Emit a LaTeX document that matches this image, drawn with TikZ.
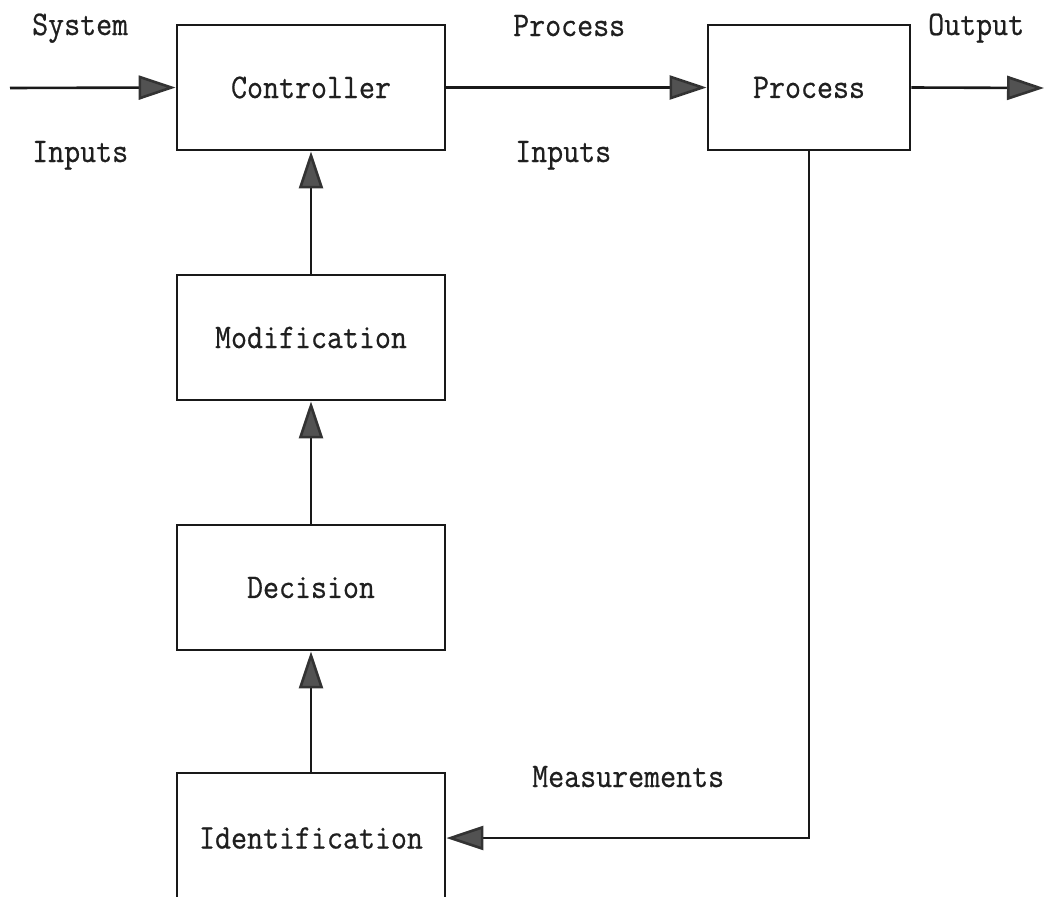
\documentclass[tikz,border=0pt]{standalone}
\usepackage{fontspec}
\newfontfamily\lblfont[FakeStretch=0.9,FakeBold=0.6]{Latin Modern Mono}
\usetikzlibrary{arrows.meta}
\begin{document}
\begin{tikzpicture}[x=1pt,y=-1pt,
  every node/.style={font=\lblfont\fontsize{34.5}{38}\selectfont, text=black!88},
  blockbox/.style={draw=black!90, line width=2.8pt, minimum width=268pt, minimum height=125pt, inner sep=0pt},
  lbl/.style={anchor=base west, inner sep=0pt},
  arr/.style={draw=black!90, line width=2.6pt,
    -{Triangle[length=37pt,width=24pt,fill=black!68,color=black!80]}}]
\path[use as bounding box] (0,0) rectangle (1045,897);
\clip (0,0) rectangle (1045,897);
\fill[white] (0,0) rectangle (1045,897);

\node[blockbox] (ctrl) at (311,87.5) {Controller};
\node[blockbox, minimum width=202pt] (proc) at (809,87.5) {Process};
\node[blockbox] (modi) at (311,337.5) {Modification};
\node[blockbox] (deci) at (311,587.5) {Decision};
\node[blockbox, minimum height=130pt] (iden) at (311,838) {Identification};

\node[lbl] (sys) at (32,35) {System};
\node[lbl] (inp) at (32,162) {Inputs};
\node[lbl] (pl) at (513,36) {Process};
\node[lbl] (pi) at (515,162) {Inputs};
\node[lbl] (outl) at (928,35) {Output};
\node[lbl] (meas) at (532,787) {Measurements};

\coordinate (in) at (10,88);
\coordinate (out) at (1044,88);

\draw[arr] (in) -- (ctrl.west);
\draw[arr] (ctrl.east) -- (proc.west);
\draw[arr] (proc.east) -- (out);
\draw[arr] (modi.north) -- (ctrl.south);
\draw[arr] (deci.north) -- (modi.south);
\draw[arr] (iden.north) -- (deci.south);
\draw[arr] (proc.south) |- (iden.east);
\end{tikzpicture}
\end{document}
